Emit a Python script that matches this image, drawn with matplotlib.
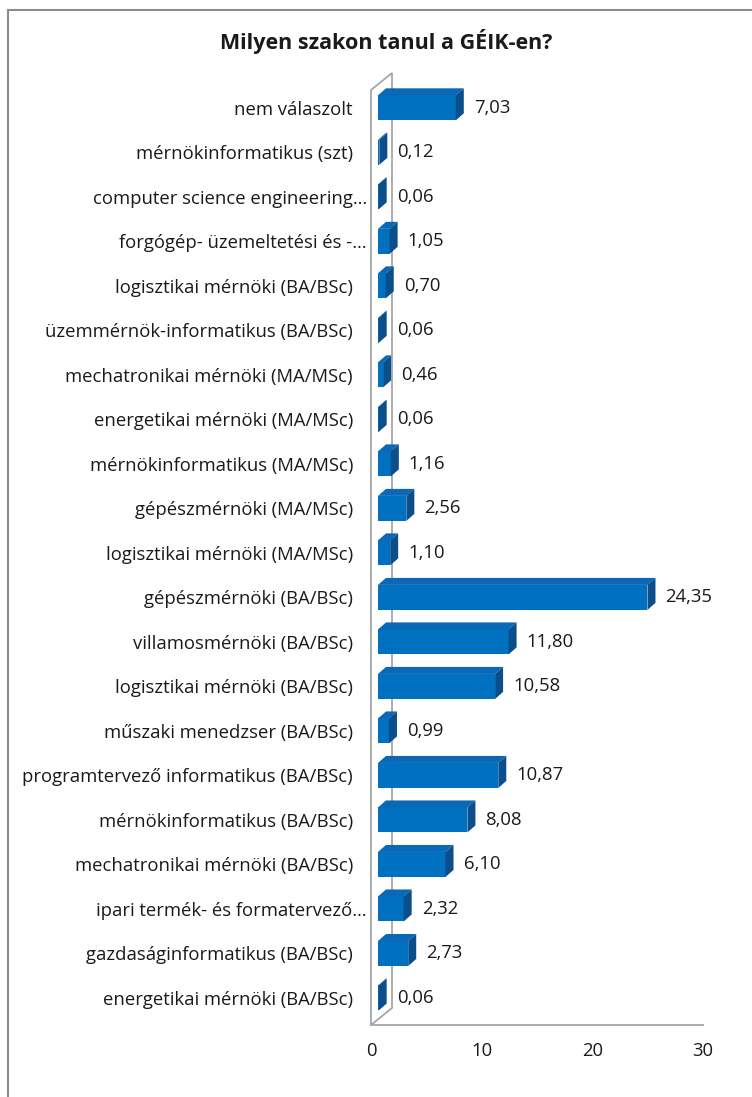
import matplotlib
matplotlib.use("Agg")
import matplotlib.pyplot as plt
from matplotlib.patches import Polygon, Rectangle
from matplotlib.lines import Line2D
import matplotlib.transforms as mtransforms

plt.rcParams['font.family'] = ['Open Sans', 'DejaVu Sans']

title = "Milyen szakon tanul a GÉIK-en?"
categories = [
    "nem válaszolt",
    "mérnökinformatikus (szt)",
    "computer science engineering…",
    "forgógép- üzemeltetési és -…",
    "logisztikai mérnöki (BA/BSc)",
    "üzemmérnök-informatikus (BA/BSc)",
    "mechatronikai mérnöki (MA/MSc)",
    "energetikai mérnöki (MA/MSc)",
    "mérnökinformatikus (MA/MSc)",
    "gépészmérnöki (MA/MSc)",
    "logisztikai mérnöki (MA/MSc)",
    "gépészmérnöki (BA/BSc)",
    "villamosmérnöki (BA/BSc)",
    "logisztikai mérnöki (BA/BSc)",
    "műszaki menedzser (BA/BSc)",
    "programtervező informatikus (BA/BSc)",
    "mérnökinformatikus (BA/BSc)",
    "mechatronikai mérnöki (BA/BSc)",
    "ipari termék- és formatervező…",
    "gazdaságinformatikus (BA/BSc)",
    "energetikai mérnöki (BA/BSc)",
]
values = [7.03, 0.12, 0.06, 1.05, 0.70, 0.06, 0.46, 0.06, 1.16, 2.56, 1.10,
          24.35, 11.80, 10.58, 0.99, 10.87, 8.08, 6.10, 2.32, 2.73, 0.06]
xticks = [0, 10, 20, 30]

W, H = 752, 1097
fig = plt.figure(figsize=(W / 100, H / 100), dpi=100)
FS = 13.3
txt_c = '#1a1a1a'

# axes placement in pixels
x0_px, x1_px = 371, 703
yb_px, yt_px = 1025, 90
ax = fig.add_axes([x0_px / W, 1 - yb_px / H, (x1_px - x0_px) / W, (yb_px - yt_px) / H])
n = len(categories)
pos = list(range(n - 1, -1, -1))  # top to bottom
xmin, xmax = 0, 30
ymin, ymax = -0.607, (n - 1) + 0.40
ax.set_xlim(xmin, xmax)
ax.set_ylim(ymin, ymax)
for s in ax.spines.values():
    s.set_visible(False)
ax.patch.set_alpha(0)

px_x = (xmax - xmin) / (x1_px - x0_px)
px_y = (ymax - ymin) / (yb_px - yt_px)

wall_c = '#A6A6A6'
# wall (depth offset)
wdx, wdy = 21 * px_x, 17 * px_y
wall = Polygon([(0, ymin), (0, ymax), (wdx, ymax + wdy), (wdx, ymin + wdy)],
               closed=True, facecolor='white', edgecolor=wall_c, lw=1.3, zorder=1,
               clip_on=False)
ax.add_patch(wall)
ax.add_line(Line2D([0, xmax], [ymin, ymin], color=wall_c, lw=1.3, zorder=1, clip_on=False))

# bars
front_c, top_c, side_c = '#0070C0', '#0A68B6', '#0B4E8A'
bx0 = 7 * px_x
h = 25 * px_y
ddx, ddy = 8 * px_x, 7 * px_y
for p, v in zip(pos, values):
    x1 = bx0 + v
    yb, yt = p - h / 2, p + h / 2
    ax.add_patch(Rectangle((bx0, yb), v, h, facecolor=front_c, edgecolor='none', zorder=3,
                           clip_on=False))
    ax.add_patch(Polygon([(bx0, yt), (x1, yt), (x1 + ddx, yt + ddy), (bx0 + ddx, yt + ddy)],
                         closed=True, facecolor=top_c, edgecolor='none', zorder=3, clip_on=False))
    ax.add_patch(Polygon([(x1, yb), (x1, yt), (x1 + ddx, yt + ddy), (x1 + ddx, yb + ddy)],
                         closed=True, facecolor=side_c, edgecolor='none', zorder=3, clip_on=False))
    ax.text(x1 + ddx + 10 * px_x, p, f"{v:.2f}".replace('.', ','), va='center', ha='left',
            fontsize=FS, color=txt_c, zorder=4)

# category labels
ax.set_yticks(pos)
ax.set_yticklabels(categories, fontsize=FS, color=txt_c)
ax.tick_params(axis='y', length=0, pad=13)
for lab in ax.get_yticklabels():
    if lab.get_text().endswith('…'):
        lab.set_transform(lab.get_transform() + mtransforms.ScaledTranslation(14 / 100, 0, fig.dpi_scale_trans))

ax.set_xticks(xticks)
ax.set_xticklabels([str(t) for t in xticks], fontsize=FS, color=txt_c)
ax.tick_params(axis='x', length=0, pad=12)

fig.text(386 / W, 1 - 41 / H, title, ha='center', va='center', fontsize=15.5,
         fontweight='bold', color=txt_c, family=['Open Sans', 'DejaVu Sans'])

# outer chart frame
fig.add_artist(Rectangle((8 / W, -0.1), 1.2, 1 - 10 / H + 0.1, transform=fig.transFigure,
                         facecolor='none', edgecolor='#8C8C8C', lw=1.5))

fig.savefig('out.png', dpi=100, facecolor='white')
